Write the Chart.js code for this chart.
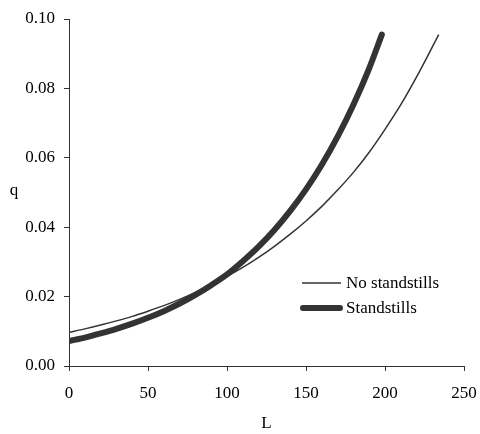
<!DOCTYPE html>
<html>
<head>
<meta charset="utf-8">
<script src="https://cdn.jsdelivr.net/npm/chart.js@4/dist/chart.umd.min.js"></script>
<style>
  html, body { margin: 0; padding: 0; background: #fff; }
  #wrap { width: 480px; height: 434px; position: relative; }
</style>
</head>
<body>
<div id="wrap"><canvas id="c" width="480" height="434"></canvas></div>
<script>
// Data
const seriesNames = ["No standstills", "Standstills"];
const lNoStandstills = [0, 10, 20, 30, 40, 50, 60, 70, 80, 90, 100, 110, 120, 130, 140, 150, 160, 170, 180, 190, 200, 210, 220, 234];
const qNoStandstills = [0.0097, 0.0107, 0.0118, 0.0130, 0.0143, 0.0158, 0.0174, 0.0192, 0.0212, 0.0234, 0.0258, 0.0284, 0.0313, 0.0345, 0.0380, 0.0418, 0.0460, 0.0507, 0.0558, 0.0616, 0.0682, 0.0753, 0.0833, 0.0955];
const lStandstills = [0, 10, 20, 30, 40, 50, 60, 70, 80, 90, 100, 110, 120, 130, 140, 150, 160, 170, 180, 190, 198];
const qStandstills = [0.0072, 0.0082, 0.0094, 0.0107, 0.0122, 0.0139, 0.0158, 0.0180, 0.0205, 0.0233, 0.0264, 0.0302, 0.0344, 0.0392, 0.0447, 0.0509, 0.0580, 0.0661, 0.0753, 0.0858, 0.0955];
const xTicks = [0, 50, 100, 150, 200, 250];
const yTicks = [0.00, 0.02, 0.04, 0.06, 0.08, 0.10];
const xTitle = "L";
const yTitle = "q";

const INK = "#333333";
const FONT = "'Liberation Serif', 'Times New Roman', serif";
const FS = 17;

function pts(xs, ys) { return xs.map((x, i) => ({ x: x, y: ys[i] })); }

const extras = {
  id: "extras",
  afterDraw(chart) {
    const ctx = chart.ctx;
    const ca = chart.chartArea;
    ctx.save();
    ctx.fillStyle = "#000";
    ctx.font = FS + "px " + FONT;
    ctx.textAlign = "center";
    ctx.textBaseline = "middle";
    ctx.fillText(yTitle, 14, (ca.top + ca.bottom) / 2 - 2);
    // legend
    const items = [
      { label: seriesNames[0], w: 1.5, y: 283 },
      { label: seriesNames[1], w: 6, y: 308 }
    ];
    ctx.textAlign = "left";
    items.forEach(it => {
      ctx.strokeStyle = INK;
      ctx.lineWidth = it.w;
      ctx.lineCap = it.w > 2 ? "round" : "butt";
      ctx.beginPath();
      ctx.moveTo(it.w > 2 ? 303 : 302, it.y);
      ctx.lineTo(it.w > 2 ? 340 : 341, it.y);
      ctx.stroke();
      ctx.fillStyle = "#000";
      ctx.fillText(it.label, 346, it.y + 1);
    });
    ctx.restore();
  }
};

new Chart(document.getElementById("c"), {
  type: "line",
  data: {
    datasets: [
      {
        label: seriesNames[0],
        data: pts(lNoStandstills, qNoStandstills),
        borderColor: INK,
        borderWidth: 1.5,
        pointRadius: 0,
        cubicInterpolationMode: "monotone",
        fill: false
      },
      {
        label: seriesNames[1],
        data: pts(lStandstills, qStandstills),
        borderColor: INK,
        borderWidth: 6,
        borderCapStyle: "round",
        pointRadius: 0,
        cubicInterpolationMode: "monotone",
        fill: false
      }
    ]
  },
  options: {
    responsive: false,
    animation: false,
    devicePixelRatio: 1,
    layout: { padding: { left: 0, top: 19, right: 16, bottom: 0 } },
    plugins: { legend: { display: false }, tooltip: { enabled: false } },
    scales: {
      x: {
        type: "linear",
        min: 0, max: 250,
        afterBuildTicks(s) { s.ticks = xTicks.map(v => ({ value: v })); },
        afterFit(s) { s.height = 68; s.paddingRight = 0; s.paddingLeft = 0; },
        grid: { display: true, drawOnChartArea: false, drawTicks: true, tickLength: 5, color: INK, lineWidth: 1 },
        border: { display: true, color: INK, width: 1 },
        ticks: { color: "#000", font: { family: FONT, size: FS }, padding: 12, maxRotation: 0 },
        title: { display: true, text: xTitle, color: "#000", font: { family: FONT, size: FS }, padding: { top: 0, bottom: 0 } }
      },
      y: {
        type: "linear",
        min: 0, max: 0.1,
        afterBuildTicks(s) { s.ticks = yTicks.map(v => ({ value: v })); },
        afterFit(s) { s.width = 69; s.paddingTop = 0; s.paddingBottom = 0; },
        grid: { display: true, drawOnChartArea: false, drawTicks: true, tickLength: 5, color: INK, lineWidth: 1 },
        border: { display: true, color: INK, width: 1 },
        ticks: { color: "#000", font: { family: FONT, size: FS }, padding: 9, callback: v => Number(v).toFixed(2) }
      }
    }
  },
  plugins: [extras]
});
</script>
</body>
</html>
